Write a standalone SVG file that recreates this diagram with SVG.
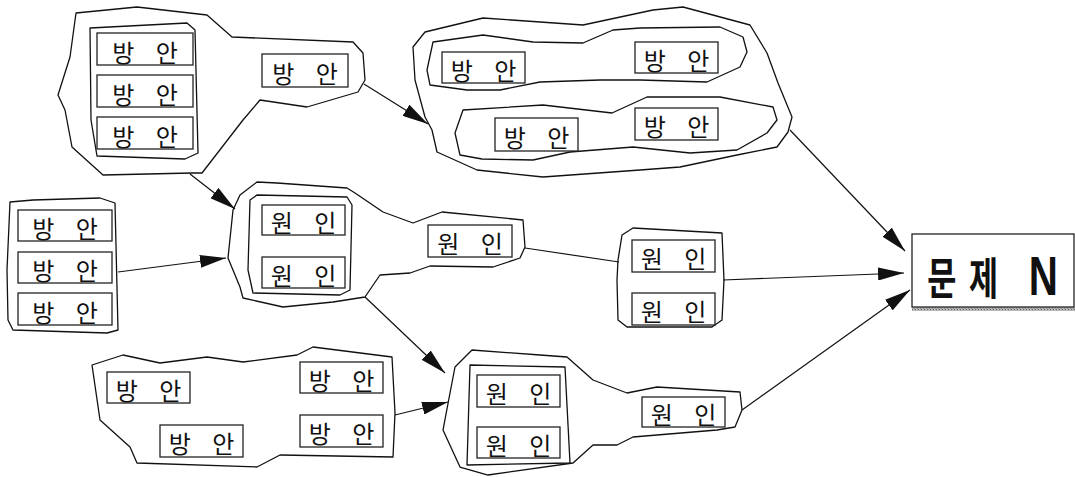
<svg xmlns="http://www.w3.org/2000/svg" width="1075" height="477" viewBox="0 0 1075 477">
  <style>
    .blob { fill: none; stroke: #111; stroke-width: 1.3; stroke-linejoin: round; }
    .box { fill: #fff; stroke: #222; stroke-width: 1.3; }
    .lbl { font-family: "Noto Sans CJK KR", "Noto Sans", sans-serif; font-size: 24px; fill: #111; text-anchor: middle; word-spacing: 16px; }
    .title { font-family: "Noto Sans CJK KR", "Liberation Sans", sans-serif; font-size: 44px; font-weight: bold; fill: #111; text-anchor: middle; }
    .edge { fill: none; stroke: #111; stroke-width: 1.2; }
    .arrow { marker-end: url(#head); }
  </style>
  <defs>
    <marker id="head" markerUnits="userSpaceOnUse" markerWidth="26" markerHeight="13" refX="26" refY="6.5" orient="auto">
      <path d="M0,0 L26,6.5 L0,13 Z" fill="#111"/>
    </marker>
    <pattern id="grain" width="3" height="3" patternUnits="userSpaceOnUse">
      <rect width="3" height="3" fill="#b8b8b8"/>
      <rect width="1" height="1" fill="#666"/>
      <rect x="2" y="2" width="1" height="1" fill="#888"/>
    </pattern>
  </defs>

  <!-- connectors -->
  <g id="connectors">
    <line class="edge arrow" x1="364" y1="84" x2="428" y2="124"/>
    <line class="edge arrow" x1="190" y1="174" x2="235" y2="209"/>
    <line class="edge arrow" x1="118" y1="272" x2="226" y2="258"/>
    <line class="edge" x1="525" y1="248" x2="619" y2="262"/>
    <line class="edge arrow" x1="365" y1="297" x2="445" y2="373"/>
    <line class="edge arrow" x1="395" y1="415" x2="448" y2="402"/>
    <line class="edge arrow" x1="790" y1="130" x2="905" y2="251"/>
    <line class="edge arrow" x1="723" y1="280" x2="904" y2="273"/>
    <line class="edge arrow" x1="742" y1="410" x2="910" y2="290"/>
  </g>

  <!-- top-left group of 방안 -->
  <g id="node-top-left">
    <path class="blob" d="M76,13 L137,7 L207,15 L232,37 L353,42 L363,53 L365,80 L358,92 L307,107 L260,100 L243,120 L202,173 L192,173 L103,175 L72,147 L65,110 L58,95 L70,57 Z"/>
    <path class="blob" d="M90,28 L187,23 L195,30 L198,153 L185,159 L97,156 L91,120 Z"/>
    <rect class="box" x="97" y="33" width="96" height="32"/>
    <text class="lbl" x="145" y="62">방 안</text>
    <rect class="box" x="97" y="75" width="96" height="32"/>
    <text class="lbl" x="145" y="104">방 안</text>
    <rect class="box" x="97" y="117" width="96" height="32"/>
    <text class="lbl" x="145" y="146">방 안</text>
    <rect class="box" x="262" y="54" width="86" height="33"/>
    <text class="lbl" x="305" y="83">방 안</text>
  </g>

  <!-- top-right group of 방안 -->
  <g id="node-top-right">
    <path class="blob" d="M425,32 L483,18 L583,25 L653,10 L683,7 L750,25 L767,53 L778,83 L792,117 L788,132 L777,147 L737,155 L680,167 L640,170 L543,177 L477,170 L437,152 L432,130 L425,117 L415,80 L413,47 Z"/>
    <path class="blob" d="M433,42 L483,35 L533,42 L583,43 L613,30 L640,28 L720,27 L743,37 L747,52 L740,67 L707,82 L640,80 L600,80 L540,82 L500,90 L467,90 L430,85 L427,70 Z"/>
    <path class="blob" d="M463,110 L543,105 L612,113 L647,97 L720,97 L773,107 L777,120 L767,133 L737,150 L690,153 L633,147 L570,152 L533,160 L482,159 L460,155 L455,133 Z"/>
    <rect class="box" x="442" y="52" width="83" height="31"/>
    <text class="lbl" x="483.5" y="80">방 안</text>
    <rect class="box" x="635" y="42" width="83" height="31"/>
    <text class="lbl" x="676.5" y="70">방 안</text>
    <rect class="box" x="495" y="118" width="83" height="33"/>
    <text class="lbl" x="536.5" y="147">방 안</text>
    <rect class="box" x="635" y="108" width="83" height="32"/>
    <text class="lbl" x="676.5" y="136">방 안</text>
  </g>

  <!-- left stack of 방안 -->
  <g id="node-left">
    <path class="blob" d="M10,202 L33,200 L100,198 L115,203 L118,330 L107,333 L13,330 L8,320 L7,270 Z"/>
    <rect class="box" x="18" y="210" width="94" height="31"/>
    <text class="lbl" x="65" y="238">방 안</text>
    <rect class="box" x="18" y="252" width="94" height="31"/>
    <text class="lbl" x="65" y="280">방 안</text>
    <rect class="box" x="18" y="293" width="94" height="32"/>
    <text class="lbl" x="65" y="322">방 안</text>
  </g>

  <!-- middle group of 원인 -->
  <g id="node-middle">
    <path class="blob" d="M257,182 L277,183 L347,188 L355,193 L383,212 L413,223 L442,212 L523,220 L525,247 L520,258 L493,267 L430,266 L410,273 L380,275 L365,297 L333,302 L283,307 L243,298 L240,287 L228,258 L233,210 L240,195 Z"/>
    <path class="blob" d="M250,200 L257,195 L347,197 L352,205 L350,290 L340,295 L253,293 L248,270 Z"/>
    <rect class="box" x="262" y="205" width="83" height="30"/>
    <text class="lbl" x="303.5" y="232">원 인</text>
    <rect class="box" x="262" y="257" width="83" height="31"/>
    <text class="lbl" x="303.5" y="285">원 인</text>
    <rect class="box" x="428" y="225" width="84" height="32"/>
    <text class="lbl" x="470" y="253">원 인</text>
  </g>

  <!-- right pair of 원인 -->
  <g id="node-right">
    <path class="blob" d="M622,235 L633,228 L722,233 L724,280 L722,320 L712,327 L627,327 L618,320 L617,280 L618,260 Z"/>
    <rect class="box" x="632" y="240" width="83" height="32"/>
    <text class="lbl" x="673.5" y="268">원 인</text>
    <rect class="box" x="632" y="293" width="83" height="32"/>
    <text class="lbl" x="673.5" y="321">원 인</text>
  </g>

  <!-- bottom-left group of 방안 -->
  <g id="node-bottom-left">
    <path class="blob" d="M92,365 L123,355 L160,363 L207,357 L243,362 L297,355 L313,347 L392,357 L395,413 L393,457 L280,455 L257,467 L137,463 L130,447 L100,420 Z"/>
    <rect class="box" x="107" y="372" width="83" height="31"/>
    <text class="lbl" x="148.5" y="400">방 안</text>
    <rect class="box" x="160" y="425" width="83" height="32"/>
    <text class="lbl" x="201.5" y="453">방 안</text>
    <rect class="box" x="300" y="362" width="83" height="31"/>
    <text class="lbl" x="341.5" y="390">방 안</text>
    <rect class="box" x="300" y="415" width="83" height="32"/>
    <text class="lbl" x="341.5" y="443">방 안</text>
  </g>

  <!-- bottom group of 원인 -->
  <g id="node-bottom">
    <path class="blob" d="M472,350 L540,355 L567,357 L593,380 L627,393 L657,387 L740,392 L742,410 L735,427 L717,430 L633,437 L617,445 L593,445 L573,463 L488,475 L460,467 L443,430 L450,393 L455,367 Z"/>
    <path class="blob" d="M470,365 L565,367 L570,463 L467,465 Z"/>
    <rect class="box" x="477" y="375" width="83" height="32"/>
    <text class="lbl" x="518.5" y="403">원 인</text>
    <rect class="box" x="477" y="427" width="83" height="31"/>
    <text class="lbl" x="518.5" y="455">원 인</text>
    <rect class="box" x="642" y="397" width="83" height="30"/>
    <text class="lbl" x="683.5" y="424">원 인</text>
  </g>

  <!-- target problem -->
  <g id="node-problem">
    <rect x="912" y="307" width="163" height="4" fill="url(#grain)"/>
    <rect class="box" x="912" y="234" width="162" height="73"/>
    <text class="title" transform="translate(0,295) scale(0.72,1)"><tspan x="1308">문</tspan><tspan x="1371">제</tspan> <tspan x="1449" font-family="Liberation Sans, sans-serif" font-size="56">N</tspan></text>
  </g>
</svg>
